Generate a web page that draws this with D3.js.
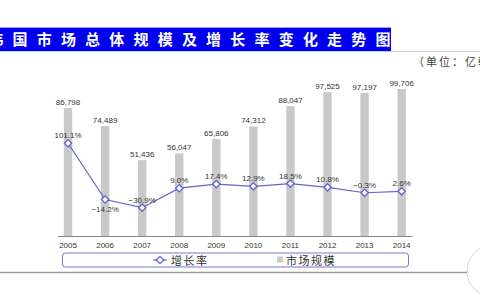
<!DOCTYPE html>
<html>
<head>
<meta charset="utf-8">
<script src="https://cdn.jsdelivr.net/npm/d3@7"></script>
<style>
  body { margin: 0; background: #fff; }
  svg { display: block; }
</style>
</head>
<body>
<svg id="chart" width="480" height="300"></svg>
<script>
const years = ["2005", "2006", "2007", "2008", "2009", "2010", "2011", "2012", "2013", "2014"];
const marketSize = [86798, 74489, 51436, 56047, 65806, 74312, 88047, 97525, 97197, 99706];
const growthRate = [101.1, -14.2, -30.9, 9.0, 17.4, 12.9, 18.5, 10.8, -0.3, 2.6];
const titleChars = "韩国市场总体规模及增长率变化走势图".split("");
const unitText = "（单位：亿韩元）";

const cjk = "'Noto Sans CJK SC', 'Noto Sans', sans-serif";
const num = "'Liberation Sans', Arial, sans-serif";
const lineColor = "#6262d2";

const svg = d3.select("#chart");

// title bar
svg.append("rect").attr("x", 0).attr("y", 28).attr("width", 391).attr("height", 23).attr("fill", "#0000ee");
svg.append("line").attr("x1", 0).attr("x2", 480).attr("y1", 51.5).attr("y2", 51.5)
  .attr("stroke", "#c9c9f2").attr("stroke-width", 1);
svg.append("line").attr("x1", 0).attr("x2", 391).attr("y1", 27.5).attr("y2", 27.5)
  .attr("stroke", "#9c9cf0").attr("stroke-width", 1);

svg.selectAll(".title-char")
  .data(titleChars)
  .join("text")
  .attr("class", "title-char")
  .attr("x", (d, i) => -4.2 + i * 24.2)
  .attr("y", 45)
  .attr("text-anchor", "middle")
  .attr("font-family", cjk)
  .attr("font-weight", "bold")
  .attr("font-size", 15)
  .attr("fill", "#fff")
  .text((d) => d);

svg.append("text")
  .attr("x", 413)
  .attr("y", 66)
  .attr("font-family", cjk)
  .attr("font-size", 11)
  .attr("letter-spacing", 2)
  .attr("fill", "#444")
  .text(unitText);

// scales
const x = d3.scaleBand().domain(years).range([49.5, 420.2]);
const yBar = d3.scaleLinear().domain([0, 100000]).range([236, 88.6]);
const yLine = d3.scaleLinear().domain([-50, 150]).range([217, 119.4]);
const cx = (d) => x(d) + x.bandwidth() / 2;

const g = svg.append("g");

// bars
g.selectAll(".bar")
  .data(years)
  .join("rect")
  .attr("class", "bar")
  .attr("x", (d) => cx(d) - 4.2)
  .attr("width", 8.4)
  .attr("y", (d, i) => yBar(marketSize[i]))
  .attr("height", (d, i) => yBar(0) - yBar(marketSize[i]))
  .attr("fill", "#c9c9c9");

g.selectAll(".bar-label")
  .data(years)
  .join("text")
  .attr("class", "bar-label")
  .attr("x", cx)
  .attr("y", (d, i) => yBar(marketSize[i]) - 3)
  .attr("text-anchor", "middle")
  .attr("font-family", num)
  .attr("font-size", 8)
  .attr("fill", "#333")
  .text((d, i) => d3.format(",")(marketSize[i]));

// x axis
g.append("line")
  .attr("x1", cx(years[0]) - 10).attr("x2", cx(years[years.length - 1]) + 11)
  .attr("y1", 236.5).attr("y2", 236.5)
  .attr("stroke", "#8a8a8a").attr("stroke-width", 1.2);

g.selectAll(".year-label")
  .data(years)
  .join("text")
  .attr("class", "year-label")
  .attr("x", cx)
  .attr("y", 248)
  .attr("text-anchor", "middle")
  .attr("font-family", num)
  .attr("font-size", 8)
  .attr("fill", "#333")
  .text((d) => d);

// growth line
const line = d3.line().x((d) => cx(d)).y((d, i) => yLine(growthRate[i]));
g.append("path")
  .datum(years)
  .attr("d", line)
  .attr("fill", "none")
  .attr("stroke", lineColor)
  .attr("stroke-width", 1.2);

const diamond = d3.symbol().type(d3.symbolDiamond2).size(34);
g.selectAll(".pt")
  .data(years)
  .join("path")
  .attr("class", "pt")
  .attr("d", diamond)
  .attr("transform", (d, i) => `translate(${cx(d)},${yLine(growthRate[i])})`)
  .attr("fill", "#fff")
  .attr("stroke", lineColor)
  .attr("stroke-width", 1.3);

g.selectAll(".rate-label")
  .data(years)
  .join("text")
  .attr("class", "rate-label")
  .attr("x", cx)
  .attr("y", (d, i) => yLine(growthRate[i]) + (i === 1 ? 12 : -5))
  .attr("text-anchor", "middle")
  .attr("font-family", num)
  .attr("font-size", 8)
  .attr("fill", "#333")
  .text((d, i) => d3.format(".1f")(growthRate[i]) + "%");

// legend
const lg = svg.append("g");
lg.append("rect")
  .attr("x", 62.5).attr("y", 253).attr("width", 346).attr("height", 14).attr("rx", 3)
  .attr("fill", "#fff").attr("stroke", "#7676d6").attr("stroke-width", 1);
lg.append("line").attr("x1", 153).attr("x2", 167).attr("y1", 260).attr("y2", 260)
  .attr("stroke", lineColor).attr("stroke-width", 1.2);
lg.append("path").attr("d", diamond).attr("transform", "translate(160,260)")
  .attr("fill", "#fff").attr("stroke", lineColor).attr("stroke-width", 1.3);
lg.append("text").attr("x", 171).attr("y", 264.5)
  .attr("font-family", cjk).attr("font-size", 11).attr("letter-spacing", 1.5).attr("fill", "#333")
  .text("增长率");
lg.append("rect").attr("x", 277).attr("y", 256.5).attr("width", 6).attr("height", 6).attr("fill", "#c9c9c9");
lg.append("text").attr("x", 286).attr("y", 264.5)
  .attr("font-family", cjk).attr("font-size", 11).attr("letter-spacing", 1.5).attr("fill", "#333")
  .text("市场规模");

// footer rule and corner badge
svg.append("line").attr("x1", 0).attr("x2", 467).attr("y1", 272.5).attr("y2", 272.5)
  .attr("stroke", "#9a9a9a").attr("stroke-width", 1.5);
svg.append("circle").attr("cx", 493).attr("cy", 271).attr("r", 26)
  .attr("fill", "none").attr("stroke", "#d6d6d6").attr("stroke-width", 1);
</script>
</body>
</html>
